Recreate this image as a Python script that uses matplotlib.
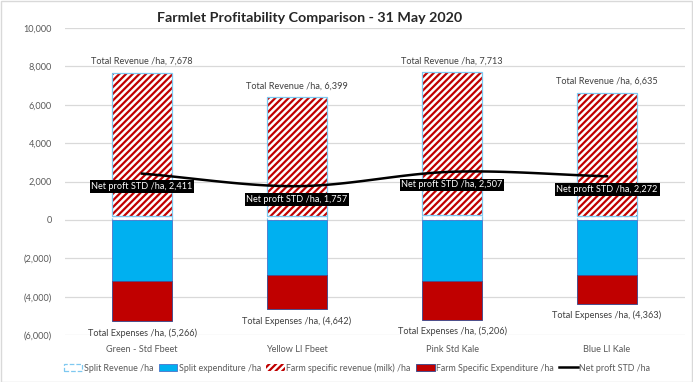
import numpy as np
import matplotlib
matplotlib.use("Agg")
import matplotlib.pyplot as plt
from matplotlib.patches import Patch, Rectangle
from matplotlib.lines import Line2D

plt.rcParams['font.family'] = ['Lato', 'DejaVu Sans']

categories = ["Green - Std Fbeet", "Yellow LI Fbeet", "Pink Std Kale", "Blue LI Kale"]
split_revenue = [220, 180, 270, 190]
total_revenue = [7678, 6399, 7713, 6635]
split_expenditure = [-3170, -2880, -3170, -2850]
total_expenses = [-5266, -4642, -5206, -4363]
net_profit = [2411, 1757, 2507, 2272]

farm_revenue = [t - s for t, s in zip(total_revenue, split_revenue)]
farm_expenditure = [t - s for t, s in zip(total_expenses, split_expenditure)]

fig = plt.figure(figsize=(6.93, 3.82), dpi=100)
ax = fig.add_axes([0.0931, 0.1230, 0.8947, 0.8037])

x = np.arange(len(categories))
w = 0.39
red = '#C00000'
cyan = '#00B0F0'
lblue = '#7EC8F0'

plt.rcParams['hatch.linewidth'] = 1.6

# Split revenue
ax.bar(x, split_revenue, w, color='white', edgecolor=lblue, linestyle='--', linewidth=0.9, zorder=2)
# Farm specific revenue (hatched)
ax.bar(x, farm_revenue, w, bottom=split_revenue, color='white', edgecolor=red, hatch='/////', linewidth=0, zorder=2)
ax.bar(x, farm_revenue, w, bottom=split_revenue, fill=False, edgecolor=lblue, linewidth=0.9, zorder=3)
# Split expenditure
ax.bar(x, split_expenditure, w, color=cyan, edgecolor='#4F81D0', linewidth=0.7, zorder=2)
# Farm specific expenditure
ax.bar(x, farm_expenditure, w, bottom=split_expenditure, color=red, edgecolor='#4A4E8C', linewidth=0.7, zorder=2)

# Net profit smooth line (Catmull-Rom through data points)
px = x.astype(float)
py = np.array(net_profit, dtype=float)
P = np.column_stack([px, py])
P_ext = np.vstack([2 * P[0] - P[1], P, 2 * P[-1] - P[-2]])
xs, ys = [], []
for i in range(1, len(P_ext) - 2):
    p0, p1, p2, p3 = P_ext[i - 1], P_ext[i], P_ext[i + 1], P_ext[i + 2]
    t = np.linspace(0, 1, 30)[:, None]
    pts = 0.5 * ((2 * p1) + (-p0 + p2) * t + (2 * p0 - 5 * p1 + 4 * p2 - p3) * t ** 2
                 + (-p0 + 3 * p1 - 3 * p2 + p3) * t ** 3)
    xs.extend(pts[:, 0]); ys.extend(pts[:, 1])
ax.plot(xs, ys, color='black', linewidth=1.8, zorder=4)

txt = '#404040'
fs = 6.6
for i in range(len(categories)):
    ax.annotate(f"Total Revenue /ha, {total_revenue[i]:,}", (x[i], total_revenue[i]),
                xytext=(0, 8), textcoords='offset points', ha='center', va='center',
                fontsize=fs, color=txt, zorder=5)
    ax.annotate(f"Total Expenses /ha, ({-total_expenses[i]:,})", (x[i], total_expenses[i]),
                xytext=(0, -8.5), textcoords='offset points', ha='center', va='center',
                fontsize=fs, color=txt, zorder=5)
    ax.annotate(f"Net proft STD /ha, {net_profit[i]:,}", (x[i], net_profit[i]),
                xytext=(0, -9.5), textcoords='offset points', ha='center', va='center',
                fontsize=fs, color='white', zorder=6,
                bbox=dict(boxstyle='square,pad=0.2', fc='black', ec='none'))

ax.set_xlim(-0.5, len(categories) - 0.5)
ax.set_ylim(-6000, 10000)
yt = np.arange(-6000, 10001, 2000)
ax.set_yticks(yt)
ax.set_yticklabels([f"({-v:,})" if v < 0 else f"{v:,}" for v in yt])
ax.set_xticks(x)
ax.set_xticklabels(categories)
ax.tick_params(axis='both', length=0, labelsize=6.6, colors='#595959')
ax.tick_params(axis='y', pad=9)
ax.tick_params(axis='x', pad=7)
ax.grid(axis='y', color='#D9D9D9', linewidth=0.9, zorder=0)
ax.set_axisbelow(True)
for s in ax.spines.values():
    s.set_visible(False)

fig.text(0.227, 0.953, "Farmlet Profitability Comparison - 31 May 2020", ha='left', va='center',
         fontsize=10.3, fontweight='bold', color='#262626')

handles = [
    Patch(facecolor='white', edgecolor=lblue, linestyle='--', linewidth=0.9, label='Split Revenue /ha'),
    Patch(facecolor=cyan, edgecolor='#4F81D0', linewidth=0.7, label='Split expenditure /ha'),
    Patch(facecolor='white', edgecolor=red, hatch='/////', linewidth=0, label='Farm specific revenue (milk) /ha'),
    Patch(facecolor=red, edgecolor='#4A4E8C', linewidth=0.7, label='Farm Specific Expenditure /ha'),
    Line2D([0], [0], color='black', linewidth=1.8, label='Net proft STD /ha'),
]
leg = fig.legend(handles=handles, loc='center', bbox_to_anchor=(0.515, 0.037), ncol=5, frameon=False,
                 fontsize=6.4, handlelength=2.1, handleheight=0.8, handletextpad=0.15, columnspacing=0.6,
                 labelcolor='#595959')

fig.patches.append(Rectangle((0.001, 0.001), 0.997, 0.997, transform=fig.transFigure, fill=False,
                             edgecolor='#D9D9D9', linewidth=1))

fig.savefig('out.png', dpi=100)
